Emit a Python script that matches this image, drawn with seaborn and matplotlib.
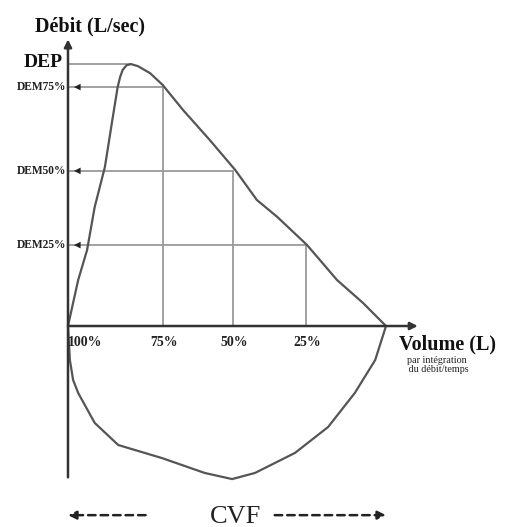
import numpy as np
import pandas as pd
import matplotlib
matplotlib.use("Agg")
import matplotlib.pyplot as plt
import seaborn as sns

# ---- data (volume in L, flow in L/s) ----
exp_volume = [0.0, 0.16, 0.30, 0.42, 0.58, 0.69, 0.78, 0.82, 0.86, 0.92, 0.99, 1.10,
              1.29, 1.49, 1.81, 2.23, 2.63, 2.97, 3.29, 3.76, 4.23, 4.64, 5.0]
exp_flow = [0.0, 1.58, 2.61, 4.09, 5.46, 6.98, 8.20, 8.56, 8.80, 8.96, 9.0, 8.93,
            8.69, 8.28, 7.42, 6.39, 5.36, 4.33, 3.75, 2.78, 1.58, 0.79, 0.0]
insp_volume = [0.0, 0.03, 0.08, 0.16, 0.42, 0.79, 1.48, 2.15, 2.58, 2.94, 3.57, 4.09,
               4.51, 4.83, 5.0]
insp_flow = [0.0, -1.17, -1.85, -2.30, -3.33, -4.09, -4.54, -5.05, -5.26, -5.05,
             -4.36, -3.47, -2.30, -1.17, 0.0]

dep_volume = 0.99
dep_flow = 9.0
dem_labels = ["DEM75%", "DEM50%", "DEM25%"]
dem_flow = [8.21, 5.33, 2.78]
dem_volume = [1.49, 2.59, 3.74]
pct_labels = ["100%", "75%", "50%", "25%"]
pct_volume = [0.0, 1.49, 2.59, 3.74]
cvf = 5.0

sns.set_theme(style="white")
plt.rcParams["font.family"] = ["Liberation Serif", "DejaVu Serif"]

fig = plt.figure(figsize=(5.05, 5.27), dpi=100)
ax = fig.add_axes([0, 0, 1, 1])

df = pd.DataFrame({
    "volume": exp_volume + insp_volume[::-1],
    "flow": exp_flow + insp_flow[::-1],
})
sns.lineplot(data=df, x="volume", y="flow", sort=False, estimator=None,
             color="#555555", lw=1.6, ax=ax)

ref_c = "#9a9a9a"
# DEP line
ax.plot([0, dep_volume], [dep_flow, dep_flow], color=ref_c, lw=1.3, zorder=1)
# DEM lines
for v, f in zip(dem_volume, dem_flow):
    ax.plot([0, v], [f, f], color=ref_c, lw=1.3, zorder=1)
    ax.plot([v, v], [0, f], color=ref_c, lw=1.3, zorder=1)
    ax.annotate("", xy=(0.05, f), xytext=(0.24, f),
                arrowprops=dict(arrowstyle="-|>", color="#222222", lw=0,
                                mutation_scale=12))

# axes arrows
ax.annotate("", xy=(0, 9.85), xytext=(0, -5.2),
            arrowprops=dict(arrowstyle="-|>", color="#333333", lw=1.8,
                            mutation_scale=11, shrinkA=0, shrinkB=0))
ax.annotate("", xy=(5.5, 0), xytext=(0, 0),
            arrowprops=dict(arrowstyle="-|>", color="#333333", lw=1.8,
                            mutation_scale=11, shrinkA=0, shrinkB=0))

# texts
ax.text(0.35, 10.3, "Débit (L/sec)", fontsize=14.5, fontweight="bold",
        ha="center", va="center", color="#111111")
ax.text(-0.09, dep_flow + 0.05, "DEP", fontsize=14, fontweight="bold",
        ha="right", va="center", color="#111111")
for lab, f in zip(dem_labels, dem_flow):
    ax.text(-0.02, f, lab, fontsize=8.3, fontweight="bold", ha="right",
            va="center", color="#222222")
for lab, v in zip(pct_labels, pct_volume):
    xx = v + 0.27 if lab == "100%" else v + 0.02
    ax.text(xx, -0.55, lab, fontsize=10, fontweight="bold", ha="center",
            va="center", color="#222222")
ax.text(5.97, -0.62, "Volume (L)", fontsize=14.5, fontweight="bold",
        ha="center", va="center", color="#111111")
ax.text(5.8, -1.35, "par intégration\n du débit/temps", fontsize=7.3,
        ha="center", va="center", color="#222222", linespacing=1.0)

# CVF
ax.annotate("", xy=(0, -6.5), xytext=(1.22, -6.5),
            arrowprops=dict(arrowstyle="-|>", color="#222222", lw=1.8,
                            ls=(0, (3, 2)), mutation_scale=12, shrinkA=0, shrinkB=0))
ax.annotate("", xy=(cvf, -6.5), xytext=(3.25, -6.5),
            arrowprops=dict(arrowstyle="-|>", color="#222222", lw=1.8,
                            ls=(0, (3, 2)), mutation_scale=12, shrinkA=0, shrinkB=0))
ax.text(2.64, -6.58, "CVF", fontsize=19, ha="center", va="center",
        color="#222222")

ax.set_xlim(-1.069, 6.871)
ax.set_ylim(-6.907, 11.203)
ax.set_axis_off()

fig.savefig("out.png", dpi=100)
